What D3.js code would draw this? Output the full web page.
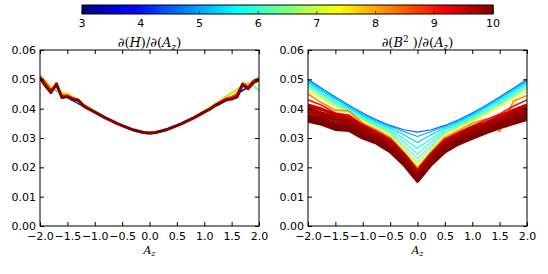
<!DOCTYPE html>
<html>
<head>
<meta charset="utf-8">
<script src="https://cdn.jsdelivr.net/npm/d3@7"></script>
<style>
  body { margin: 0; background: #fff; }
  svg { display: block; font-family: "DejaVu Sans", sans-serif; }
</style>
</head>
<body>
<div id="chart"></div>
<script>

//----------------------------
// Data
//----------------------------

// colour value range of the colour bar
var cRange = [3, 10],
	cTicks = [3, 4, 5, 6, 7, 8, 9, 10];

var yTicks = [0.00, 0.01, 0.02, 0.03, 0.04, 0.05, 0.06],
	xTicks = [-2.0, -1.5, -1.0, -0.5, 0.0, 0.5, 1.0, 1.5, 2.0];

// left panel: d(H)/d(Az)
var xLeft = [-2.0,-1.9,-1.8,-1.7,-1.6,-1.5,-1.4,-1.3,-1.2,-1.1,-1.0,-0.9,-0.8,-0.7,-0.6,-0.5,-0.4,-0.3,-0.2,-0.1,
	0.0,0.1,0.2,0.3,0.4,0.5,0.6,0.7,0.8,0.9,1.0,1.1,1.2,1.3,1.4,1.5,1.6,1.7,1.8,1.9,2.0];

var leftLevels = [4.0, 6.4, 7.6, 8.7, 10];

var hBlue = [0.0500,0.0487,0.0474,0.0462,0.0450,0.0439,0.0428,0.0418,0.0408,0.0398,
	0.0388,0.0378,0.0368,0.0359,0.0350,0.0342,0.0334,0.0327,0.0321,0.0317,
	0.0315,
	0.0317,0.0321,0.0327,0.0334,0.0342,0.0350,0.0359,0.0368,0.0378,0.0388,
	0.0398,0.0408,0.0418,0.0428,0.0439,0.0450,0.0462,0.0474,0.0487,0.0500];
var hGreen = [0.0502,0.0489,0.0475,0.0463,0.0452,0.0442,0.0432,0.0422,0.0414,0.0404,
	0.0393,0.0382,0.0371,0.0361,0.0352,0.0343,0.0336,0.0329,0.0323,0.0319,
	0.0317,
	0.0319,0.0323,0.0329,0.0336,0.0343,0.0352,0.0361,0.0371,0.0382,0.0393,
	0.0405,0.0417,0.0430,0.0443,0.0455,0.0467,0.0477,0.0486,0.0478,0.0462];
var hYellow = [0.0510,0.0494,0.0472,0.0468,0.0456,0.0452,0.0440,0.0431,0.0414,0.0403,
	0.0391,0.0380,0.0370,0.0360,0.0351,0.0343,0.0335,0.0328,0.0323,0.0319,
	0.0317,
	0.0319,0.0323,0.0328,0.0335,0.0343,0.0351,0.0360,0.0370,0.0380,0.0391,
	0.0403,0.0416,0.0428,0.0441,0.0452,0.0462,0.0478,0.0488,0.0484,0.0496];
var hOrange = [0.0512,0.0490,0.0465,0.0476,0.0447,0.0446,0.0437,0.0432,0.0413,0.0401,
	0.0390,0.0380,0.0369,0.0360,0.0351,0.0343,0.0335,0.0328,0.0323,0.0319,
	0.0317,
	0.0319,0.0323,0.0328,0.0335,0.0343,0.0351,0.0360,0.0369,0.0380,0.0390,
	0.0401,0.0414,0.0425,0.0436,0.0440,0.0452,0.0487,0.0476,0.0497,0.0505];
var hDarkRed = [0.0505,0.0478,0.0455,0.0485,0.0438,0.0441,0.0432,0.0428,0.0408,0.0398,
	0.0388,0.0378,0.0368,0.0359,0.0350,0.0342,0.0335,0.0328,0.0323,0.0319,
	0.0317,
	0.0319,0.0323,0.0328,0.0335,0.0342,0.0350,0.0359,0.0368,0.0378,0.0388,
	0.0398,0.0411,0.0420,0.0430,0.0433,0.0440,0.0482,0.0468,0.0490,0.0498];

// right panel: d(B^2)/d(Az)
var xRight = [-2.0,-1.75,-1.5,-1.25,-1.0,-0.75,-0.5,-0.25,0.0,0.25,0.5,0.75,1.0,1.25,1.5,1.75,2.0];

var rightLevels = [4.6, 5.0, 5.3, 5.6, 5.9, 6.2, 6.6, 7.3, 8.2, 9.0, 9.5, 9.7, 9.8, 9.9, 10, 10];

var bBlue   = [0.0500,0.0470,0.0440,0.0412,0.0385,0.0362,0.0343,0.0328,0.0320,0.0328,0.0343,0.0362,0.0385,0.0412,0.0440,0.0470,0.0500];
var bSky1   = [0.0495,0.0466,0.0436,0.0408,0.0381,0.0359,0.0340,0.0322,0.0305,0.0322,0.0340,0.0359,0.0381,0.0408,0.0436,0.0466,0.0495];
var bSky2   = [0.0490,0.0461,0.0432,0.0404,0.0377,0.0355,0.0336,0.0311,0.0285,0.0311,0.0336,0.0355,0.0377,0.0404,0.0432,0.0461,0.0490];
var bCyan1  = [0.0485,0.0456,0.0427,0.0400,0.0373,0.0351,0.0331,0.0298,0.0265,0.0298,0.0331,0.0351,0.0373,0.0400,0.0427,0.0456,0.0485];
var bCyan2  = [0.0480,0.0451,0.0422,0.0395,0.0369,0.0347,0.0326,0.0286,0.0246,0.0286,0.0326,0.0347,0.0369,0.0395,0.0422,0.0451,0.0480];
var bCyan3  = [0.0474,0.0446,0.0417,0.0390,0.0365,0.0343,0.0320,0.0274,0.0230,0.0274,0.0320,0.0343,0.0365,0.0390,0.0417,0.0446,0.0474];
var bGreen  = [0.0468,0.0440,0.0412,0.0386,0.0361,0.0338,0.0315,0.0265,0.0215,0.0265,0.0315,0.0338,0.0361,0.0386,0.0412,0.0440,0.0468];
var bYellow = [0.0460,0.0434,0.0405,0.0380,0.0356,0.0332,0.0308,0.0258,0.0205,0.0258,0.0308,0.0332,0.0356,0.0380,0.0405,0.0432,0.0458];
var bOrange = [0.0450,0.0420,0.0395,0.0392,0.0350,0.0328,0.0302,0.0252,0.0198,0.0252,0.0302,0.0326,0.0350,0.0365,0.0322,0.0425,0.0445];
var bRed    = [0.0430,0.0412,0.0385,0.0378,0.0345,0.0322,0.0297,0.0248,0.0190,0.0248,0.0296,0.0320,0.0340,0.0362,0.0382,0.0408,0.0430];
var bDark1  = [0.0412,0.0398,0.0380,0.0370,0.0342,0.0318,0.0292,0.0244,0.0186,0.0244,0.0291,0.0314,0.0337,0.0352,0.0374,0.0394,0.0412];
var bDark2  = [0.0402,0.0385,0.0372,0.0360,0.0334,0.0311,0.0285,0.0238,0.0180,0.0238,0.0284,0.0308,0.0330,0.0347,0.0366,0.0384,0.0402];
var bDark3  = [0.0390,0.0376,0.0362,0.0352,0.0326,0.0305,0.0278,0.0232,0.0174,0.0231,0.0277,0.0302,0.0322,0.0340,0.0358,0.0376,0.0394];
var bDark4  = [0.0378,0.0366,0.0350,0.0343,0.0317,0.0298,0.0270,0.0225,0.0167,0.0225,0.0269,0.0295,0.0314,0.0332,0.0350,0.0366,0.0384];
var bDark5  = [0.0368,0.0357,0.0340,0.0334,0.0308,0.0290,0.0262,0.0217,0.0160,0.0218,0.0261,0.0287,0.0306,0.0325,0.0342,0.0357,0.0374];
var bDark6  = [0.0358,0.0347,0.0330,0.0326,0.0300,0.0283,0.0254,0.0210,0.0153,0.0210,0.0253,0.0280,0.0299,0.0318,0.0335,0.0350,0.0364];

var leftSeries = [hBlue, hGreen, hYellow, hOrange, hDarkRed];
var rightSeries = [bBlue, bSky1, bSky2, bCyan1, bCyan2, bCyan3, bGreen, bYellow,
	bOrange, bRed, bDark1, bDark2, bDark3, bDark4, bDark5, bDark6];

//----------------------------
// Layout
//----------------------------

var totwidth = 548,
	totheight = 274,
	plotTop = 50,
	plotBottom = 226,
	tickLen = 4;

var svg = d3.select("#chart").append("svg")
	.attr("width", totwidth)
	.attr("height", totheight);

// matplotlib 'jet'
function jet(v) {
	var t = (v - cRange[0]) / (cRange[1] - cRange[0]);
	function f(x) { return Math.max(0, Math.min(1, 1.5 - Math.abs(x))); }
	return d3.rgb(255 * f(4 * t - 3), 255 * f(4 * t - 2), 255 * f(4 * t - 1)).formatHex();
}

//----------------------------
// Colour bar
//----------------------------

var cbX = d3.scaleLinear().domain(cRange).range([82, 493]);
var cbTop = 5, cbH = 9;

var cb = svg.append("g").attr("class", "colorbar");
var nSeg = 200;
cb.selectAll("rect.seg").data(d3.range(nSeg)).enter().append("rect")
	.attr("class", "seg")
	.attr("x", function(i) { return cbX(cRange[0] + i * (cRange[1] - cRange[0]) / nSeg); })
	.attr("y", cbTop)
	.attr("width", (cbX(cRange[1]) - cbX(cRange[0])) / nSeg + 0.6)
	.attr("height", cbH)
	.attr("fill", function(i) { return jet(cRange[0] + (i + 0.5) * (cRange[1] - cRange[0]) / nSeg); });

cb.append("rect")
	.attr("x", cbX(cRange[0]))
	.attr("y", cbTop)
	.attr("width", cbX(cRange[1]) - cbX(cRange[0]))
	.attr("height", cbH)
	.attr("fill", "none")
	.attr("stroke", "#000")
	.attr("stroke-width", 1);

cb.selectAll("line.cbtick").data(cTicks).enter().append("line")
	.attr("class", "cbtick")
	.attr("x1", function(d) { return cbX(d); })
	.attr("x2", function(d) { return cbX(d); })
	.attr("y1", cbTop + cbH)
	.attr("y2", cbTop + cbH - 3)
	.attr("stroke", "#000")
	.attr("stroke-opacity", 0.6);

cb.selectAll("text").data(cTicks).enter().append("text")
	.attr("x", function(d) { return cbX(d); })
	.attr("y", 27)
	.attr("text-anchor", "middle")
	.attr("font-size", 11)
	.text(function(d) { return d; });

//----------------------------
// Panels
//----------------------------

var yScale = d3.scaleLinear().domain([0, 0.06]).range([plotBottom, plotTop]);

function drawPanel(x0, x1, xs, series, levels, widths, titleParts, clipId) {
	var xScale = d3.scaleLinear().domain([-2, 2]).range([x0, x1]);
	var g = svg.append("g");

	g.append("clipPath").attr("id", clipId)
		.append("rect")
		.attr("x", x0).attr("y", plotTop)
		.attr("width", x1 - x0).attr("height", plotBottom - plotTop);

	var line = d3.line()
		.x(function(d, i) { return xScale(xs[i]); })
		.y(function(d) { return yScale(d); });

	g.append("g").attr("clip-path", "url(#" + clipId + ")")
		.selectAll("path").data(series).enter().append("path")
		.attr("fill", "none")
		.attr("stroke", function(d, i) { return jet(levels[i]); })
		.attr("stroke-width", function(d, i) { return widths(levels[i]); })
		.attr("stroke-linejoin", "round")
		.attr("d", line);

	// axes, ticks pointing inwards on all four sides
	var axL = g.append("g").attr("transform", "translate(" + x0 + ",0)")
		.call(d3.axisLeft(yScale).tickValues(yTicks).tickFormat(d3.format(".2f"))
			.tickSize(-tickLen).tickPadding(4));
	var axR = g.append("g").attr("transform", "translate(" + x1 + ",0)")
		.call(d3.axisRight(yScale).tickValues(yTicks).tickFormat("").tickSize(-tickLen));
	var axB = g.append("g").attr("transform", "translate(0," + plotBottom + ")")
		.call(d3.axisBottom(xScale).tickValues(xTicks).tickFormat(d3.format(".1f"))
			.tickSize(-tickLen).tickPadding(5));
	var axT = g.append("g").attr("transform", "translate(0," + plotTop + ")")
		.call(d3.axisTop(xScale).tickValues(xTicks).tickFormat("").tickSize(-tickLen));

	[axL, axR, axB, axT].forEach(function(a) {
		a.select(".domain").remove();
		a.selectAll("text").attr("font-size", 11).attr("fill", "#000")
			.attr("font-family", "DejaVu Sans, sans-serif");
		a.selectAll("line").attr("stroke", "#000");
	});
	axB.selectAll("text").attr("dy", "0.8em");

	g.append("rect")
		.attr("x", x0).attr("y", plotTop)
		.attr("width", x1 - x0).attr("height", plotBottom - plotTop)
		.attr("fill", "none").attr("stroke", "#000").attr("stroke-width", 1);

	// title
	var cx = (x0 + x1) / 2;
	var t = g.append("text")
		.attr("x", cx).attr("y", 47)
		.attr("text-anchor", "middle")
		.attr("font-family", "DejaVu Serif, serif")
		.attr("font-size", 13);
	titleParts.forEach(function(p) {
		var s = t.append("tspan").text(p.t);
		if (p.it) s.attr("font-style", "italic");
		if (p.sz) s.attr("font-size", p.sz);
		if (p.dy) s.attr("dy", p.dy);
	});

	// x label
	var xl = g.append("text")
		.attr("x", cx).attr("y", 254)
		.attr("text-anchor", "middle")
		.attr("font-family", "DejaVu Serif, serif")
		.attr("font-size", 11);
	xl.append("tspan").attr("font-style", "italic").text("A");
	xl.append("tspan").attr("font-style", "italic").attr("font-size", 8).attr("dy", 2).text("z");
}

var titleLeft = [
	{t: "\u2202("}, {t: "H", it: true}, {t: ")/\u2202("}, {t: "A", it: true},
	{t: "z", it: true, sz: 9, dy: 3}, {t: ")", dy: -3}
];
var titleRight = [
	{t: "\u2202("}, {t: "B", it: true}, {t: "2", sz: 9, dy: -5}, {t: " )/\u2202(", dy: 5},
	{t: "A", it: true}, {t: "z", it: true, sz: 9, dy: 3}, {t: ")", dy: -3}
];

drawPanel(40, 259, xLeft, leftSeries, leftLevels,
	function(c) { return c >= 9.9 ? 3 : 1.8; }, titleLeft, "clipL");
drawPanel(308, 527, xRight, rightSeries, rightLevels,
	function(c) { return c >= 9.5 ? 3.4 : (c >= 8 ? 1.6 : 1.1); }, titleRight, "clipR");

</script>
</body>
</html>
